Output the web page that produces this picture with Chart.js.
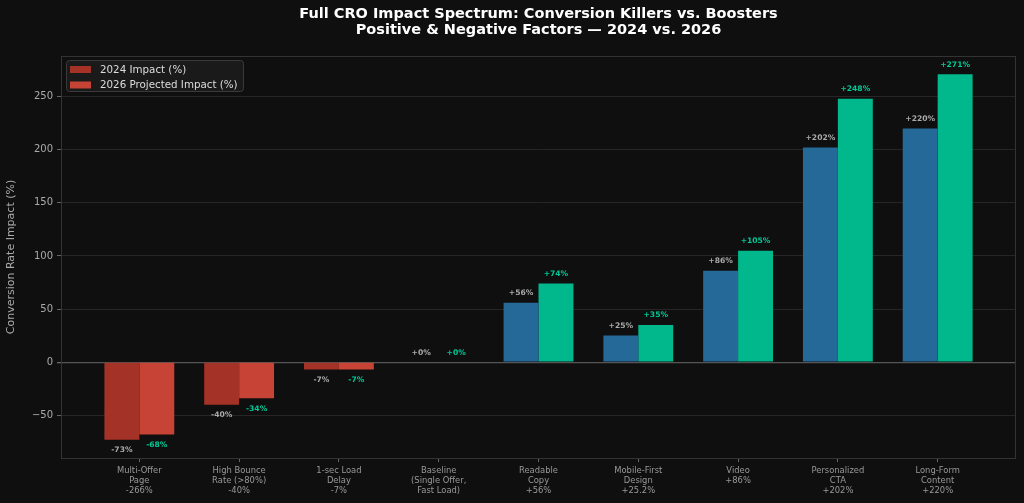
<!DOCTYPE html>
<html>
<head>
<meta charset="utf-8">
<script src="https://cdn.jsdelivr.net/npm/chart.js@4.4.1/dist/chart.umd.min.js"></script>
<style>
html,body{margin:0;padding:0;background:#0f0f0f;}
#wrap{width:1024px;height:503px;}
</style>
</head>
<body>
<div id="wrap"><canvas id="c" width="1024" height="503"></canvas></div>
<script>
const categories = [
  ["Multi-Offer","Page","-266%"],
  ["High Bounce","Rate (>80%)","-40%"],
  ["1-sec Load","Delay","-7%"],
  ["Baseline","(Single Offer,","Fast Load)"],
  ["Readable","Copy","+56%"],
  ["Mobile-First","Design","+25.2%"],
  ["Video","+86%"],
  ["Personalized","CTA","+202%"],
  ["Long-Form","Content","+220%"]
];
const impact2024 = [-73, -40, -7, 0, 56, 25, 86, 202, 220];
const impact2026 = [-68, -34, -7, 0, 74, 35, 105, 248, 271];
const yTickValues = [-50, 0, 50, 100, 150, 200, 250];
const seriesNames = ["2024 Impact (%)", "2026 Projected Impact (%)"];
const titleLines = ["Full CRO Impact Spectrum: Conversion Killers vs. Boosters", "Positive & Negative Factors \u2014 2024 vs. 2026"];

const RED24 = '#a53227', RED26 = '#c74335', BLUE24 = '#246997', GREEN26 = '#00b88c';
const FONT = "'DejaVu Sans', sans-serif";

function colorsFor(vals, neg, pos) { return vals.map(v => v < 0 ? neg : pos); }
function fmt(v) { return (v >= 0 ? '+' : '') + v + '%'; }

const bgPlugin = {
  id: 'bg',
  beforeDraw(chart) {
    const ctx = chart.ctx;
    ctx.save();
    ctx.fillStyle = '#0f0f0f';
    ctx.fillRect(0, 0, chart.width, chart.height);
    ctx.restore();
  },
  afterDraw(chart) {
    const ctx = chart.ctx, a = chart.chartArea;
    ctx.save();
    ctx.strokeStyle = '#333333';
    ctx.lineWidth = 1;
    ctx.strokeRect(a.left + 0.5, a.top + 0.5, a.right - a.left - 1, a.bottom - a.top);
    ctx.fillStyle = '#ffffff';
    ctx.font = "bold 14.5px " + FONT;
    ctx.textAlign = 'center';
    ctx.textBaseline = 'middle';
    const cx = (a.left + a.right) / 2;
    ctx.fillText(titleLines[0], cx, 14);
    ctx.fillText(titleLines[1], cx, 30);
    const lx = 66, ly = 60, lw = 177, lh = 31;
    ctx.fillStyle = 'rgba(28,28,28,0.9)';
    ctx.strokeStyle = '#3a3a3a';
    ctx.beginPath();
    if (ctx.roundRect) ctx.roundRect(lx + 0.5, ly + 0.5, lw, lh, 3); else ctx.rect(lx + 0.5, ly + 0.5, lw, lh);
    ctx.fill(); ctx.stroke();
    const sw = [RED24, RED26];
    ctx.font = "10.3px " + FONT;
    ctx.textAlign = 'left';
    for (let i = 0; i < 2; i++) {
      const y = 69.5 + i * 15.5;
      ctx.fillStyle = sw[i];
      ctx.fillRect(70, y - 3.5, 21, 7);
      ctx.fillStyle = '#dddddd';
      ctx.fillText(seriesNames[i], 100, y + 0.5);
    }
    ctx.restore();
  },
  afterDatasetsDraw(chart) {
    const ctx = chart.ctx;
    ctx.save();
    ctx.font = "bold 7.6px " + FONT;
    ctx.textAlign = 'center';
    ctx.textBaseline = 'middle';
    chart.data.datasets.forEach((ds, di) => {
      const meta = chart.getDatasetMeta(di);
      ctx.fillStyle = di === 0 ? '#aaaaaa' : '#00c896';
      meta.data.forEach((el, i) => {
        const v = ds.data[i].y;
        const y = v < 0 ? el.y + 10.5 : el.y - 9.5;
        ctx.fillText(fmt(v), el.x, y);
      });
    });
    ctx.restore();
  }
};

new Chart(document.getElementById('c'), {
  type: 'bar',
  data: {
    datasets: [
      {
        label: seriesNames[0],
        data: impact2024.map((v, i) => ({ x: i, y: v })),
        backgroundColor: colorsFor(impact2024, RED24, BLUE24),
        borderWidth: 0,
        categoryPercentage: 0.7,
        barPercentage: 1.0
      },
      {
        label: seriesNames[1],
        data: impact2026.map((v, i) => ({ x: i, y: v })),
        backgroundColor: colorsFor(impact2026, RED26, GREEN26),
        borderWidth: 0,
        categoryPercentage: 0.7,
        barPercentage: 1.0
      }
    ]
  },
  options: {
    responsive: false,
    animation: false,
    devicePixelRatio: 1,
    layout: { padding: { top: 56, left: 0, right: 8, bottom: 0 } },
    plugins: {
      legend: { display: false },
      title: { display: false },
      tooltip: { enabled: false }
    },
    scales: {
      x: {
        type: 'linear',
        min: -0.785,
        max: 8.785,
        offset: false,
        afterBuildTicks(axis) { axis.ticks = categories.map((_, i) => ({ value: i })); },
        afterFit(axis) { axis.height = 45; },
        grid: { display: true, offset: false, drawOnChartArea: false, drawTicks: true, tickLength: 4, tickColor: '#666666', color: '#333333' },
        border: { display: false },
        ticks: {
          color: '#999999',
          font: { family: FONT, size: 8.4, lineHeight: 1.2 },
          padding: 4,
          maxRotation: 0,
          autoSkip: false,
          callback: (v) => categories[Math.round(v)] || ''
        }
      },
      y: {
        type: 'linear',
        min: -90.2,
        max: 288.2,
        afterBuildTicks(axis) { axis.ticks = yTickValues.map(v => ({ value: v })); },
        afterFit(axis) { axis.width = 61; },
        grid: {
          color: (c) => c.tick && c.tick.value === 0 ? '#555555' : '#262626',
          lineWidth: (c) => c.tick && c.tick.value === 0 ? 1.3 : 1,
          drawTicks: true,
          tickLength: 4,
          tickColor: '#666666'
        },
        border: { display: false },
        ticks: {
          color: '#aaaaaa',
          font: { family: FONT, size: 10 },
          padding: 4,
          callback: (v) => String(v).replace('-', '\u2212')
        },
        title: {
          display: true,
          text: 'Conversion Rate Impact (%)',
          color: '#aaaaaa',
          font: { family: FONT, size: 11 },
          padding: { top: 5, bottom: 0 }
        }
      }
    }
  },
  plugins: [bgPlugin]
});
</script>
</body>
</html>
